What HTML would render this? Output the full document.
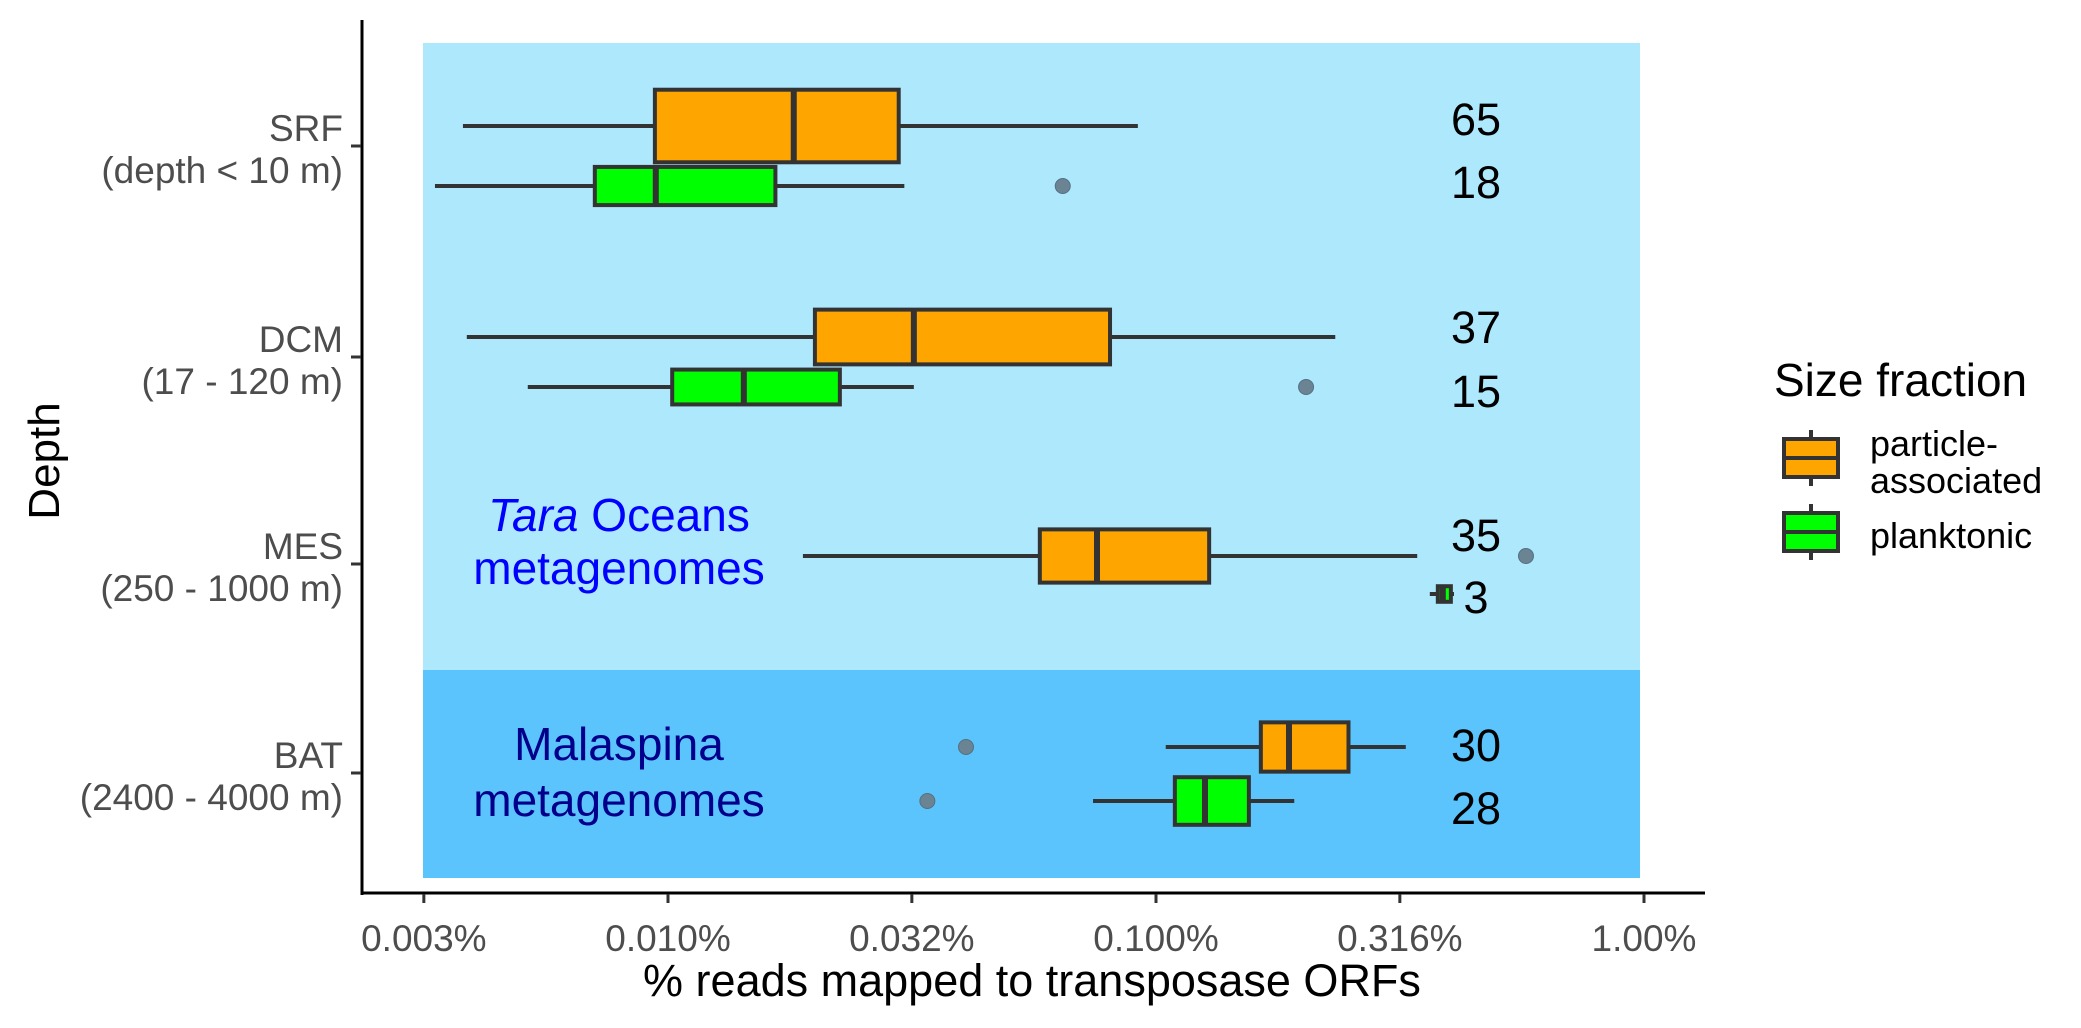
<!DOCTYPE html>
<html><head><meta charset="utf-8"><style>
html,body{margin:0;padding:0;background:#fff;}
svg{display:block;font-family:"Liberation Sans",Arial,sans-serif;}
</style></head><body>
<svg id="chart" width="2081" height="1028" viewBox="0 0 2081 1028">
  <rect x="423" y="43" width="1217" height="627" fill="#aee8fd"/>
  <rect x="423" y="670" width="1217" height="208" fill="#5bc4fc"/>
  <g id="boxes"></g>
  <line x1="362" y1="20" x2="362" y2="895" stroke="#000" stroke-width="3"/>
  <line x1="361" y1="893" x2="1705" y2="893" stroke="#000" stroke-width="3"/>
  <g id="xticks"></g>
  <g id="yticks"></g>
  <text x="1032" y="996" font-size="45" text-anchor="middle" fill="#000">% reads mapped to transposase ORFs</text>
  <text transform="translate(59,461) rotate(-90)" font-size="44" text-anchor="middle" fill="#000">Depth</text>
  <text x="619" y="531" font-size="46" text-anchor="middle" fill="#0000ff"><tspan font-style="italic">Tara</tspan> Oceans</text>
  <text x="619" y="584" font-size="46" text-anchor="middle" fill="#0000ff">metagenomes</text>
  <text x="619" y="760" font-size="46" text-anchor="middle" fill="#00008b">Malaspina</text>
  <text x="619" y="816" font-size="46" text-anchor="middle" fill="#00008b">metagenomes</text>
  <g>
    <text x="1774" y="396" font-size="46" fill="#000">Size fraction</text>
    <g>
      <line x1="1811" y1="430" x2="1811" y2="486" stroke="#333" stroke-width="4"/>
      <rect x="1784" y="439" width="54" height="38" fill="#ffa500" stroke="#333" stroke-width="4"/>
      <line x1="1784" y1="458" x2="1838" y2="458" stroke="#333" stroke-width="4"/>
      <text x="1870" y="456" font-size="36" fill="#000">particle-</text>
      <text x="1870" y="493" font-size="36" fill="#000">associated</text>
    </g>
    <g>
      <line x1="1811" y1="504" x2="1811" y2="560" stroke="#333" stroke-width="4"/>
      <rect x="1784" y="513" width="54" height="38" fill="#00ff00" stroke="#333" stroke-width="4"/>
      <line x1="1784" y1="532" x2="1838" y2="532" stroke="#333" stroke-width="4"/>
      <text x="1870" y="548" font-size="36" fill="#000">planktonic</text>
    </g>
  </g>
</svg>
<script>
const depthLabels = ["SRF","DCM","MES","BAT"];
const depthSub = ["(depth < 10 m)","(17 - 120 m)","(250 - 1000 m)","(2400 - 4000 m)"];
const fractions = ["particle-associated","planktonic"];
// [whiskerLow, q1, median, q3, whiskerHigh] in % reads
const particleStats = [
  [0.0038,0.0094,0.0181,0.0297,0.0918],
  [0.00387,0.0200,0.0319,0.0805,0.233],
  [0.0189,0.0578,0.0757,0.1285,0.343],
  [0.1047,0.164,0.1873,0.248,0.325]
];
const planktonicStats = [
  [0.00333,0.00708,0.00944,0.0166,0.0305],
  [0.00516,0.0102,0.0143,0.0225,0.0319],
  [0.364,0.378,0.387,0.402,0.408],
  [0.0743,0.1093,0.126,0.155,0.192]
];
const particleOutliers = [[],[],[0.573],[0.0408]];
const planktonicOutliers = [[0.0644],[0.203],[],[0.034]];
const particleN = [65,37,35,30];
const planktonicN = [18,15,3,28];
const xTickValues = [0.00316,0.01,0.0316,0.1,0.316,1];
const xTickLabels = ["0.003%","0.010%","0.032%","0.100%","0.316%","1.00%"];

const NS="http://www.w3.org/2000/svg";
function xs(v){ return 424 + (Math.log10(v)+2.5)*488; }
const tickY=[146,357,564,773];
const offP=[-20,-20,-8,-26], offG=[40,30,30,28];
function mk(tag,attrs,parent){const e=document.createElementNS(NS,tag);for(const k in attrs)e.setAttribute(k,attrs[k]);parent.appendChild(e);return e;}
const boxes=document.getElementById('boxes');
function drawBox(s,n,outs,cy,fill,name,labelY){
  const g=mk('g',{},boxes);
  
  
  const h=9*Math.sqrt(n);
  mk('line',{x1:xs(s[0]),x2:xs(s[1]),y1:cy,y2:cy,stroke:'#333','stroke-width':4},g);
  mk('line',{x1:xs(s[3]),x2:xs(s[4]),y1:cy,y2:cy,stroke:'#333','stroke-width':4},g);
  mk('rect',{x:xs(s[1]),y:cy-h/2,width:Math.max(2,xs(s[3])-xs(s[1])),height:h,fill:fill,stroke:'#333','stroke-width':4},g);
  mk('line',{x1:xs(s[2]),x2:xs(s[2]),y1:cy-h/2,y2:cy+h/2,stroke:'#333','stroke-width':6},g);
  outs.forEach(o=>{const c=mk('circle',{cx:xs(o),cy:cy,r:7.5,fill:'#6a8494',stroke:'#557080','stroke-width':1},g);
    
    });
  const t=mk('text',{x:1476,y:labelY,'font-size':45,'text-anchor':'middle',fill:'#000'},boxes);
  t.textContent=n;
  
  
}
const lblP=[135,343,551,761], lblG=[198,407,613,824];
for(let i=0;i<depthLabels.length;i++){
  drawBox(particleStats[i],particleN[i],particleOutliers[i],tickY[i]+offP[i],'#ffa500','box-'+depthLabels[i].toLowerCase()+'-particle',lblP[i]);
  drawBox(planktonicStats[i],planktonicN[i],planktonicOutliers[i],tickY[i]+offG[i],'#00ff00','box-'+depthLabels[i].toLowerCase()+'-planktonic',lblG[i]);
}
const xt=document.getElementById('xticks');
xTickValues.forEach((v,i)=>{
  const x=xs(v);
  const l=mk('line',{x1:x,x2:x,y1:894,y2:903,stroke:'#333','stroke-width':3},xt);
  
  
  const t=mk('text',{x:x,y:951,'font-size':37,'text-anchor':'middle',fill:'#4d4d4d'},xt);
  t.textContent=xTickLabels[i];
  
  
});
const yt=document.getElementById('yticks');
depthLabels.forEach((d,i)=>{
  const y=tickY[i];
  const l=mk('line',{x1:351,x2:361,y1:y,y2:y,stroke:'#333','stroke-width':3},yt);
  
  
  const t=mk('text',{x:343,y:y-5,'font-size':37,'text-anchor':'end',fill:'#4d4d4d'},yt);
  t.textContent=d;
  
  
  const t2=mk('text',{x:343,y:y+37,'font-size':37,'text-anchor':'end',fill:'#4d4d4d'},yt);
  t2.textContent=depthSub[i];
  
  
});
</script>
</body></html>
